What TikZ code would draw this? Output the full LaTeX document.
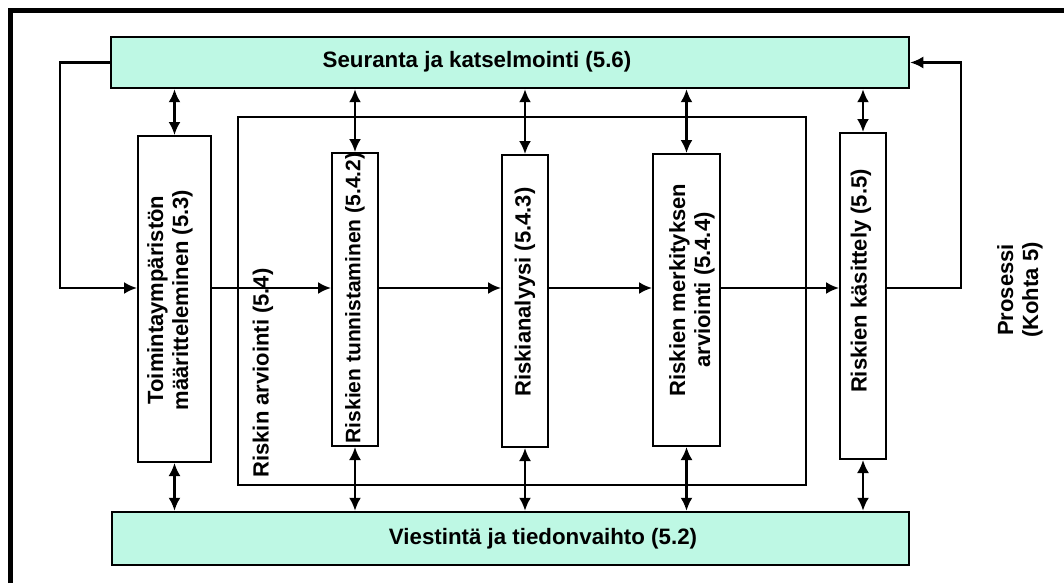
\documentclass[tikz,border=0pt]{standalone}
\usepackage{fontspec}
\setmainfont{Liberation Sans}
\usetikzlibrary{arrows.meta}
\definecolor{mint}{RGB}{190,248,228}
\tikzset{
  band/.style={draw, line width=2.5pt, fill=mint, inner sep=0pt},
  stepbox/.style={draw, line width=2pt, fill=white, inner sep=0pt},
  vtext/.style={rotate=90, font=\bfseries\fontsize{22}{25}\selectfont, align=center, inner sep=0pt},
  htext/.style={font=\bfseries\fontsize{22.3}{26}\selectfont, inner sep=0pt},
  link/.style={line width=2.2pt},
}
\begin{document}
\begin{tikzpicture}[x=1pt, y=-1pt, >={Latex[length=13pt,width=12pt]}]
\useasboundingbox (0,0) rectangle (1064,583);
% Rahmen (nur links und oben)
\draw[line width=5pt] (10,583) -- (10,10.5) -- (1064,10.5);
% Baender oben und unten
\node[band, minimum width=798, minimum height=51] (mon) at (510,62.5) {};
\node[band, minimum width=797, minimum height=53] (com) at (510.5,538.5) {};
\node[htext] (monlbl) at (477,62) {Seuranta ja katselmointi (5.6)};
\node[htext] (comlbl) at (543,539) {Viestintä ja tiedonvaihto (5.2)};
% Riskin arviointi
\node[stepbox, minimum width=568, minimum height=368] (arv) at (522,301) {};
\node[vtext] (arvlbl) at (263,373) {Riskin arviointi (5.4)};
% Prozessschritte
\node[stepbox, minimum width=73, minimum height=326] (toim) at (174.5,299) {};
\node[stepbox, minimum width=46, minimum height=293] (tun)  at (355,299.5) {};
\node[stepbox, minimum width=46, minimum height=292] (ana)  at (525,301) {};
\node[stepbox, minimum width=67, minimum height=292] (mer)  at (686.5,300) {};
\node[stepbox, minimum width=46, minimum height=326] (kas)  at (863,296) {};
\node[vtext] (toimlbl) at (170,300) {Toimintaympäristön\\määritteleminen (5.3)};
\node[vtext, font=\bfseries\fontsize{21}{25}\selectfont] (tunlbl) at (355,298) {Riskien tunnistaminen (5.4.2)};
\node[vtext] (analbl) at (525,292) {Riskianalyysi (5.4.3)};
\node[vtext] (merlbl) at (692,290) {Riskien merkityksen\\arviointi (5.4.4)};
\node[vtext] (kaslbl) at (861,281) {Riskien käsittely (5.5)};
\node[vtext] (prolbl) at (1020,290) {Prosessi\\(Kohta 5)};
% Hauptfluss
\coordinate (flow) at (0,288);
\coordinate (fwd)  at (60,288);
\coordinate (back) at (961,288);
\draw[link,->] (mon.west) -| (fwd) -- (toim.west |- flow);
\draw[link,->] (toim.east |- flow) -- (tun.west |- flow);
\draw[link,->] (tun.east |- flow) -- (ana.west |- flow);
\draw[link,->] (ana.east |- flow) -- (mer.west |- flow);
\draw[link,->] (mer.east |- flow) -- (kas.west |- flow);
\draw[link,->] (kas.east |- flow) -- (back) |- (mon.east);
% Verbindungen zu den Baendern
\foreach \b in {toim,tun,ana,mer,kas}{
  \draw[link,<->] (\b.north) -- (\b.north |- mon.south);
  \draw[link,<->] (\b.south) -- (\b.south |- com.north);
}
\end{tikzpicture}
\end{document}
